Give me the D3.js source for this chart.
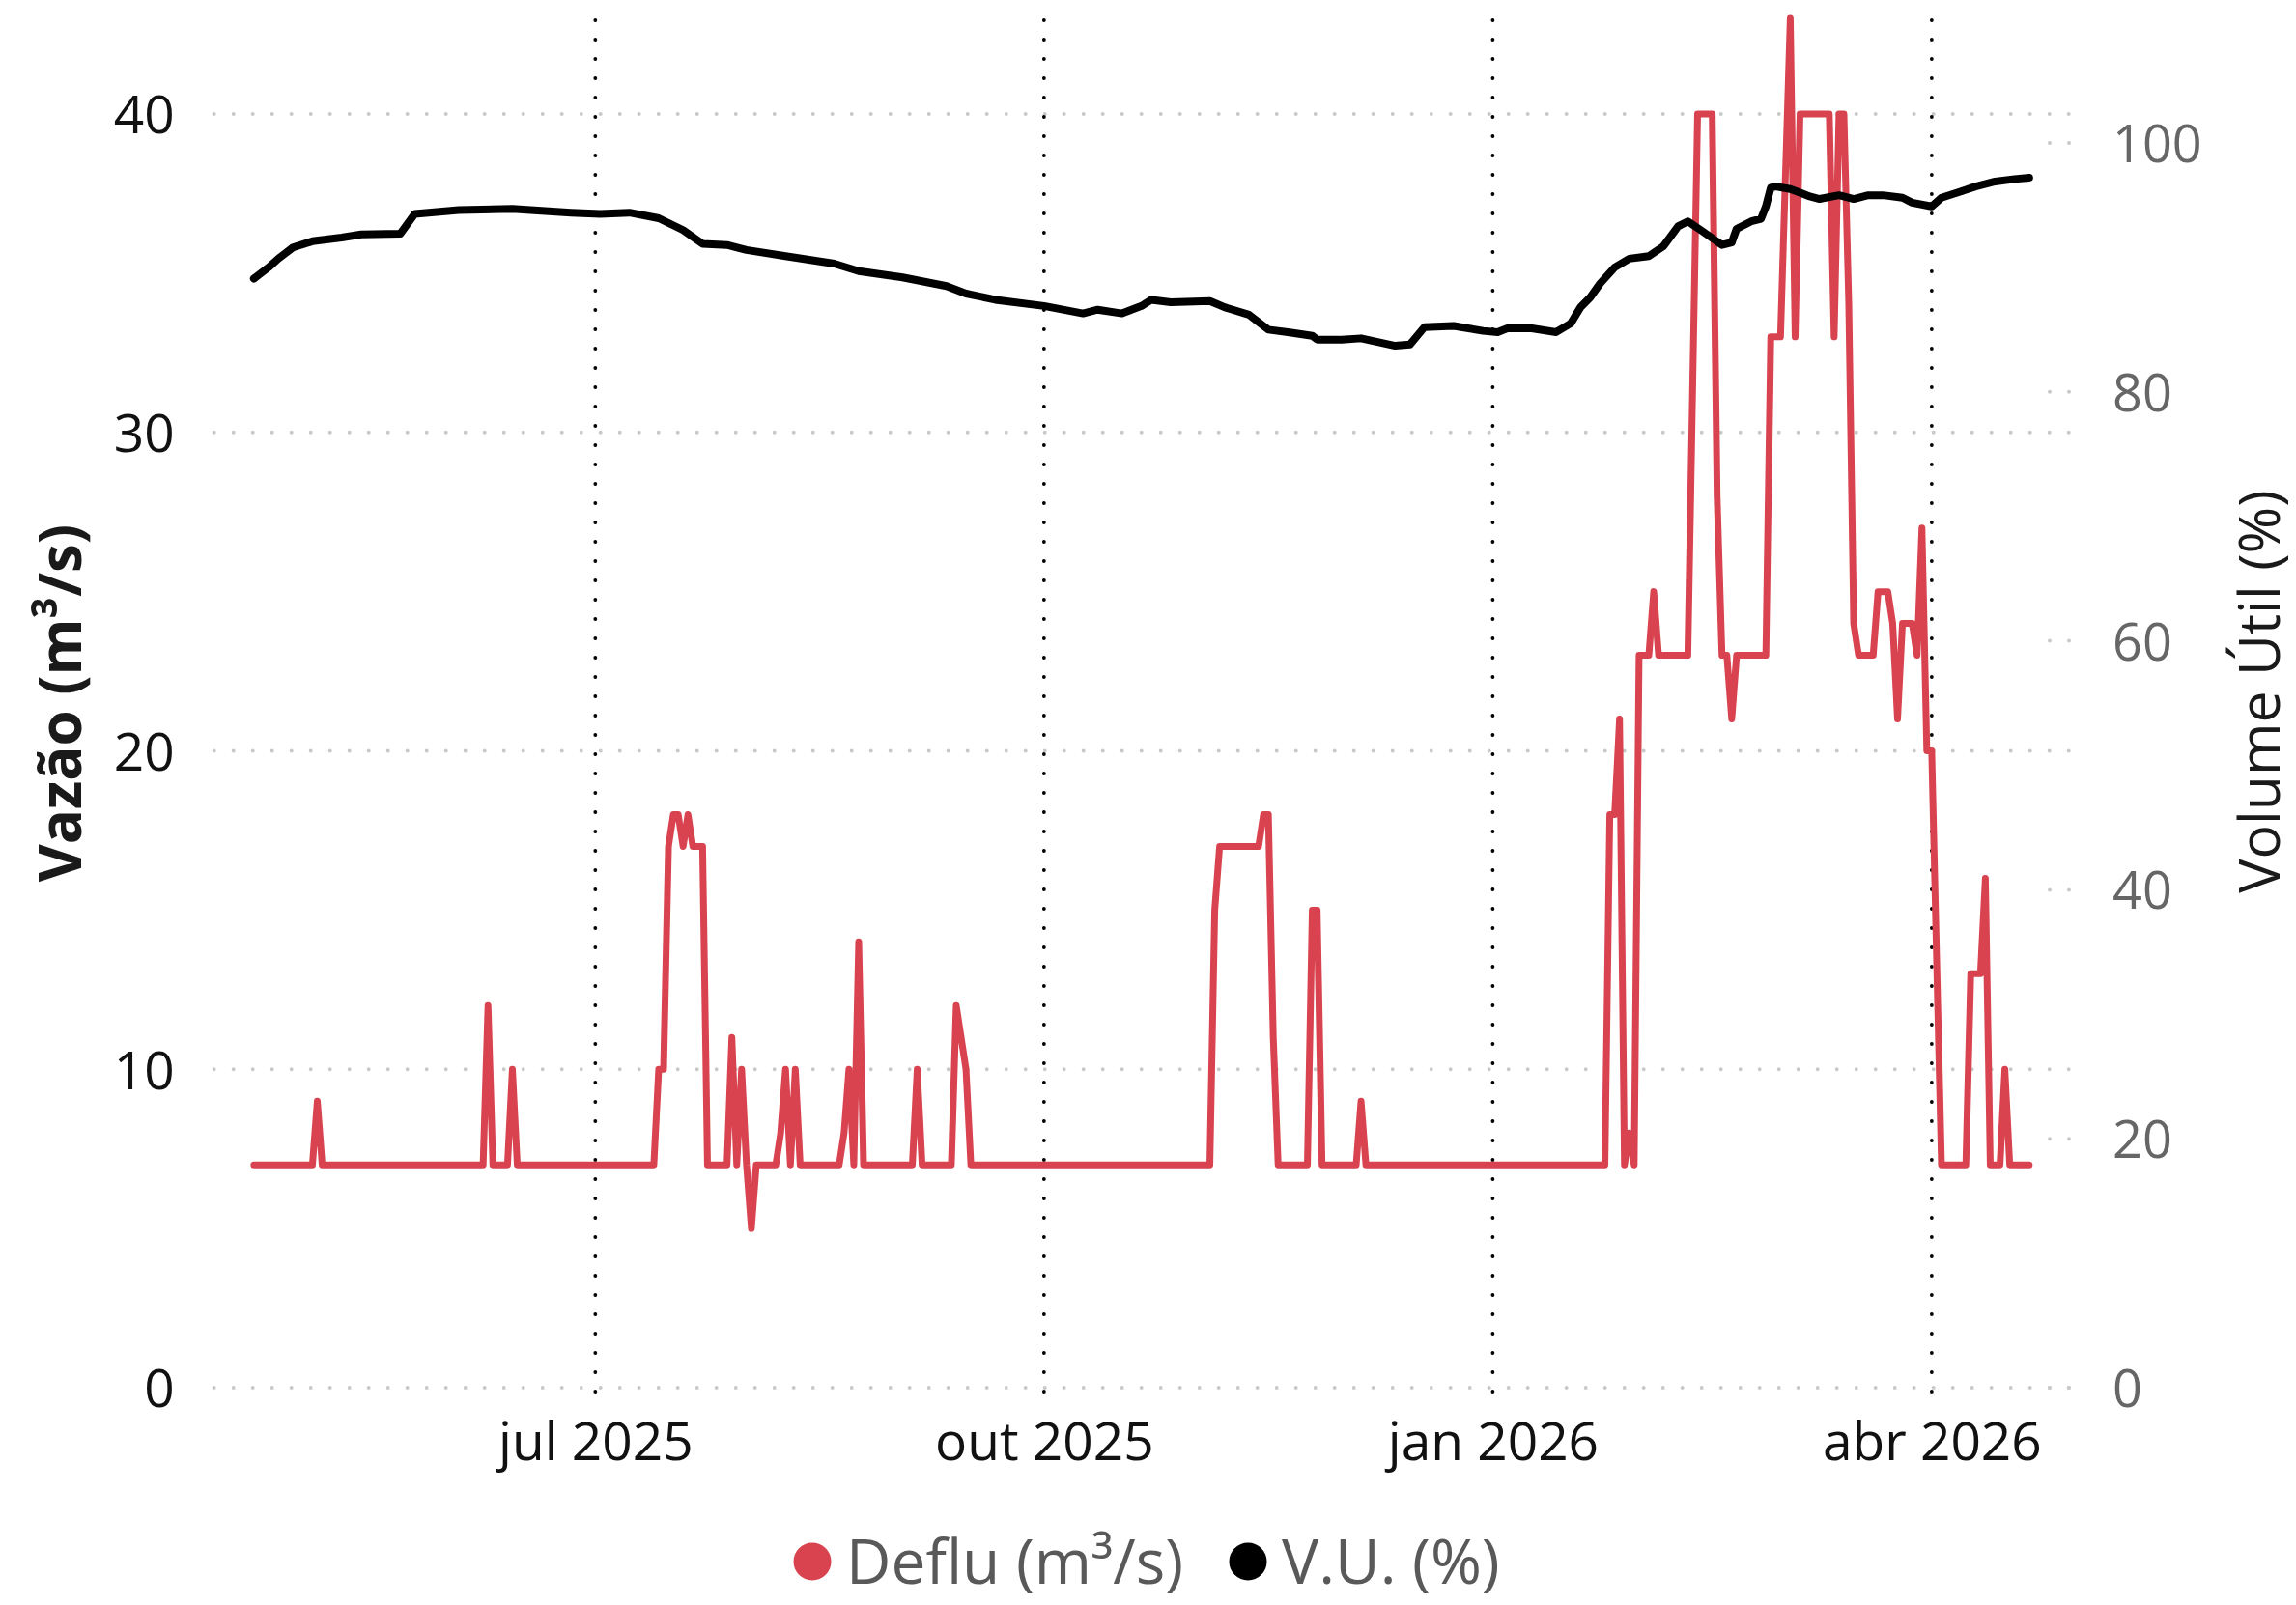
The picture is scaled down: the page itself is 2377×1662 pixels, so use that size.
<!DOCTYPE html>
<html><head><meta charset="utf-8">
<script src="https://cdn.jsdelivr.net/npm/d3@7"></script>
<style>body{margin:0;background:#fff}</style>
</head><body>
<svg id="chart" width="2377" height="1662"></svg>
<script>
// ---------- DATA ----------
const defluDates = ["2025-04-22","2025-05-04","2025-05-05","2025-05-06","2025-06-08","2025-06-09","2025-06-10","2025-06-13","2025-06-14","2025-06-15",
"2025-07-13","2025-07-14","2025-07-15","2025-07-16","2025-07-17","2025-07-18","2025-07-19","2025-07-20","2025-07-21","2025-07-23","2025-07-24",
"2025-07-28","2025-07-29","2025-07-30","2025-07-31","2025-08-01","2025-08-02","2025-08-03","2025-08-07","2025-08-08","2025-08-09","2025-08-10","2025-08-11","2025-08-12",
"2025-08-20","2025-08-21","2025-08-22","2025-08-23","2025-08-24","2025-08-25","2025-09-04","2025-09-05","2025-09-06","2025-09-12","2025-09-13","2025-09-15","2025-09-16",
"2025-11-04","2025-11-05","2025-11-06","2025-11-14","2025-11-15","2025-11-16","2025-11-17","2025-11-18","2025-11-24","2025-11-25","2025-11-26","2025-11-27",
"2025-12-04","2025-12-05","2025-12-06",
"2026-01-24","2026-01-25","2026-01-26","2026-01-27","2026-01-28","2026-01-29","2026-01-30","2026-01-31","2026-02-02","2026-02-03","2026-02-04","2026-02-10",
"2026-02-12","2026-02-15","2026-02-16","2026-02-17","2026-02-18","2026-02-19","2026-02-20","2026-02-26","2026-02-27","2026-03-01","2026-03-03","2026-03-04",
"2026-03-05","2026-03-11","2026-03-12","2026-03-13","2026-03-14","2026-03-15","2026-03-16","2026-03-17","2026-03-20","2026-03-21","2026-03-23","2026-03-24",
"2026-03-25","2026-03-26","2026-03-28","2026-03-29","2026-03-30","2026-03-31","2026-04-01","2026-04-03","2026-04-08","2026-04-09","2026-04-11","2026-04-12",
"2026-04-13","2026-04-15","2026-04-16","2026-04-17","2026-04-21"];
const defluValues = [7,7,9,7,7,12,7,7,10,7,
7,10,10,17,18,18,17,18,17,17,7,
7,11,7,10,7,5,7,7,8,10,7,10,7,
7,8,10,7,14,7,7,10,7,7,12,10,7,
7,15,17,17,18,18,11,7,7,15,15,7,
7,9,7,
7,18,18,21,7,8,7,23,23,25,23,23,
40,40,28,23,23,21,23,23,33,33,43,33,
40,40,33,40,40,34,24,23,23,25,25,24,
21,24,24,23,27,20,20,7,7,13,13,16,
7,7,10,7,7];

const vuDates = ["2025-04-22","2025-04-23","2025-04-25","2025-04-27","2025-04-30","2025-05-04","2025-05-10","2025-05-14","2025-05-22","2025-05-25",
"2025-06-03","2025-06-14","2025-06-26","2025-07-02","2025-07-08","2025-07-14","2025-07-19","2025-07-23","2025-07-28","2025-08-01","2025-08-09",
"2025-08-19","2025-08-24","2025-09-02","2025-09-11","2025-09-15","2025-09-21","2025-10-01","2025-10-09","2025-10-12","2025-10-17","2025-10-21",
"2025-10-23","2025-10-27","2025-11-04","2025-11-07","2025-11-12","2025-11-16","2025-11-20","2025-11-25","2025-11-26","2025-12-01","2025-12-05",
"2025-12-12","2025-12-15","2025-12-18","2025-12-24","2025-12-30","2026-01-02","2026-01-04","2026-01-09","2026-01-14","2026-01-17","2026-01-19",
"2026-01-21","2026-01-23","2026-01-26","2026-01-29","2026-02-02","2026-02-05","2026-02-08","2026-02-10","2026-02-13","2026-02-17","2026-02-19",
"2026-02-20","2026-02-23","2026-02-25","2026-02-26","2026-02-27","2026-02-28","2026-03-03","2026-03-05","2026-03-07","2026-03-09","2026-03-13",
"2026-03-16","2026-03-19","2026-03-22","2026-03-26","2026-03-28","2026-04-01","2026-04-03","2026-04-07","2026-04-10","2026-04-14","2026-04-18","2026-04-21"];
const vuValues = [89.1,89.4,90.0,90.7,91.6,92.1,92.4,92.65,92.7,94.3,
94.6,94.7,94.4,94.3,94.4,93.95,93.0,91.9,91.8,91.4,90.9,
90.3,89.7,89.2,88.5,87.9,87.4,86.9,86.3,86.6,86.3,86.9,
87.4,87.2,87.3,86.8,86.2,85.0,84.8,84.5,84.2,84.2,84.3,
83.7,83.8,85.2,85.3,84.9,84.8,85.1,85.1,84.8,85.5,86.8,
87.6,88.7,90.0,90.7,90.9,91.7,93.3,93.7,92.9,91.8,92.0,
93.1,93.7,93.9,94.9,96.4,96.5,96.3,96.0,95.7,95.5,95.8,
95.5,95.8,95.8,95.6,95.2,94.9,95.6,96.1,96.5,96.9,97.1,97.2];

const leftTicks = [0,10,20,30,40];
const rightTicks = [0,20,40,60,80,100];
const xTickDates = ["2025-07-01","2025-10-01","2026-01-01","2026-04-01"];
const xTickLabels = ["jul 2025","out 2025","jan 2026","abr 2026"];
const seriesNames = ["Deflu (m³/s)","V.U. (%)"];
const seriesColors = ["#d8434f","#000000"];
const leftTitle = "Vazão (m³/s)";
const rightTitle = "Volume Útil (%)";

// ---------- CHART ----------
const parse = d3.utcParse("%Y-%m-%d");
const FONT = "'Open Sans', sans-serif";
const svg = d3.select("#chart");
const L = 221.7, R = 2142, TOP = 20, BOT = 1447;

const deflu = defluDates.map((d,i)=>({date:parse(d), v:defluValues[i]}));
const vu = vuDates.map((d,i)=>({date:parse(d), v:vuValues[i]}));
const allDates = deflu.concat(vu).map(d=>d.date);
const ext = d3.extent(allDates);
const padMs = 8.15*864e5;
const x = d3.scaleUtc().domain([new Date(+ext[0]-padMs), new Date(+ext[1]+padMs)]).range([L, R]);
const yL = d3.scaleLinear().domain([0,40]).range([1437,118]);
const yR = d3.scaleLinear().domain([0,100]).range([1437,148]);

// horizontal grid (left axis)
svg.append("g").selectAll("line").data(leftTicks).join("line")
  .attr("x1", L).attr("x2", R+1).attr("y1", d=>yL(d)).attr("y2", d=>yL(d))
  .attr("stroke","#c9c9c9").attr("stroke-width",4).attr("stroke-linecap","round")
  .attr("stroke-dasharray","0 20");
// right axis grid stubs
svg.append("g").selectAll("line").data(rightTicks).join("line")
  .attr("x1", R-20).attr("x2", R+1).attr("y1", d=>yR(d)).attr("y2", d=>yR(d))
  .attr("stroke","#c9c9c9").attr("stroke-width",4).attr("stroke-linecap","round")
  .attr("stroke-dasharray","0 20");
// vertical date lines
svg.append("g").selectAll("line").data(xTickDates).join("line")
  .attr("x1", d=>x(parse(d))).attr("x2", d=>x(parse(d))).attr("y1", TOP+1).attr("y2", BOT)
  .attr("stroke","#000").attr("stroke-width",3.8).attr("stroke-linecap","round")
  .attr("stroke-dasharray","0 20");

// lines
const lineL = d3.line().x(d=>x(d.date)).y(d=>yL(d.v));
const lineR = d3.line().x(d=>x(d.date)).y(d=>yR(d.v));
svg.append("path").datum(deflu).attr("d", lineL).attr("fill","none")
  .attr("stroke", seriesColors[0]).attr("stroke-width",7).attr("stroke-linejoin","round").attr("stroke-linecap","round");
svg.append("path").datum(vu).attr("d", lineR).attr("fill","none")
  .attr("stroke", seriesColors[1]).attr("stroke-width",8).attr("stroke-linejoin","round").attr("stroke-linecap","round");

// axes
const axL = svg.append("g").attr("transform",`translate(${L},0)`)
  .call(d3.axisLeft(yL).tickValues(leftTicks).tickSize(0).tickPadding(41));
axL.select(".domain").remove();
axL.selectAll("text").attr("font-family",FONT).attr("font-size",55).attr("fill","#111").attr("dy","0.36em");

const axR = svg.append("g").attr("transform",`translate(${R+1},0)`)
  .call(d3.axisRight(yR).tickValues(rightTicks).tickSize(0).tickPadding(44));
axR.select(".domain").remove();
axR.selectAll("text").attr("font-family",FONT).attr("font-size",54).attr("fill","#666").attr("dy","0.36em");

const axB = svg.append("g").attr("transform",`translate(0,1437)`)
  .call(d3.axisBottom(x).tickValues(xTickDates.map(parse)).tickSize(0)
    .tickFormat((d,i)=>xTickLabels[i]));
axB.select(".domain").remove();
axB.selectAll("text").attr("font-family",FONT).attr("font-size",55).attr("fill","#111")
  .attr("y",75).attr("dy",0);

// axis titles
svg.append("text").attr("transform","translate(84,728) rotate(-90)")
  .attr("text-anchor","middle").attr("font-family",FONT).attr("font-weight",700)
  .attr("font-size",60).attr("fill","#1a1a1a").text(leftTitle);
svg.append("text").attr("transform","translate(2360,716) rotate(-90)")
  .attr("text-anchor","middle").attr("font-family",FONT)
  .attr("font-size",59).attr("fill","#1a1a1a").text(rightTitle);

// legend
const legendX = [841, 1292];
const lg = svg.append("g");
seriesNames.forEach((n,i)=>{
  lg.append("circle").attr("cx",legendX[i]).attr("cy",1617).attr("r",19.5).attr("fill",seriesColors[i]);
  lg.append("text").attr("x",legendX[i]+35).attr("y",1640).attr("font-family",FONT)
    .attr("font-size",64).attr("fill","#595959").text(n);
});
</script>
</body></html>
